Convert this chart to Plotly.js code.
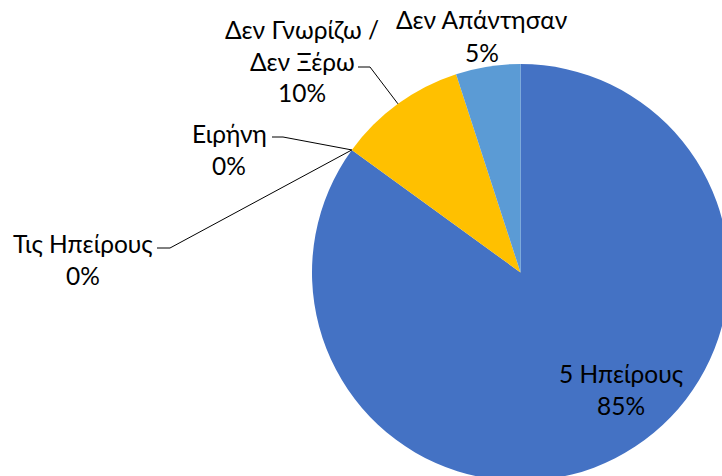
<!DOCTYPE html>
<html>
<head>
<meta charset="utf-8">
<script src="https://cdn.plot.ly/plotly-3.0.1.min.js"></script>
<style>
  html, body { margin: 0; padding: 0; overflow: hidden; background: #fff; }
  #myDiv { width: 800px; height: 560px; }
</style>
</head>
<body>
<div id="myDiv"></div>
<script>
// answers, in the order they go round the pie (clockwise from 12 o'clock)
var labels = ['5 Ηπείρους', 'Τις Ηπείρους', 'Ειρήνη', 'Δεν Γνωρίζω /<br>Δεν Ξέρω', 'Δεν Απάντησαν'];
var values = [85, 0, 0, 10, 5];
var colors = ['#4472C4', '#A5A5A5', '#ED7D31', '#FFC000', '#5B9BD5'];

// where each label sits (centre x, y of first line, in page px) and its leader line start
var labelPos = [
  {x: 621, y: 373, leader: null},
  {x: 83, y: 243, leader: [157, 248, 170]},
  {x: 229, y: 133, leader: [272, 137, 283]},
  {x: 302, y: 29, leader: [358, 67, 370]},
  {x: 482, y: 20, leader: null}
];

var W = 800, H = 560;
var cx = 520.5, cy = 272.5, r = 208.5;
var lineH = 32;

function px(x) { return x / W; }
function py(y) { return 1 - y / H; }

var total = values.reduce(function (a, b) { return a + b; }, 0);

var data = [{
  type: 'pie',
  labels: labels,
  values: values,
  sort: false,
  direction: 'clockwise',
  rotation: 0,
  textinfo: 'none',
  hoverinfo: 'label+percent',
  marker: {colors: colors, line: {width: 0}},
  domain: {x: [px(cx - r), px(cx + r)], y: [py(cy + r), py(cy - r)]}
}];

var annotations = [];
var shapes = [];
var cum = 0;
labels.forEach(function (lab, i) {
  var mid = (cum + values[i] / 2) / total * 2 * Math.PI;
  cum += values[i];
  var lines = lab.split('<br>').concat([Math.round(values[i] / total * 100) + '%']);
  var p = labelPos[i];
  lines.forEach(function (t, k) {
    annotations.push({
      xref: 'paper', yref: 'paper',
      x: px(p.x), y: py(p.y + k * lineH),
      xanchor: 'center', yanchor: 'middle',
      text: t, showarrow: false,
      font: {family: 'Lato, Noto Sans, sans-serif', size: 24.5, color: '#000'}
    });
  });
  if (p.leader) {
    var ex = cx + r * Math.sin(mid), ey = cy - r * Math.cos(mid);
    var ln = {color: '#000', width: 1};
    shapes.push({type: 'line', xref: 'paper', yref: 'paper',
      x0: px(p.leader[0]), y0: py(p.leader[1]), x1: px(p.leader[2]), y1: py(p.leader[1]), line: ln});
    shapes.push({type: 'line', xref: 'paper', yref: 'paper',
      x0: px(p.leader[2]), y0: py(p.leader[1]), x1: px(ex), y1: py(ey), line: ln});
  }
});

var layout = {
  width: W, height: H,
  margin: {l: 0, r: 0, t: 0, b: 0},
  showlegend: false,
  paper_bgcolor: '#fff',
  annotations: annotations,
  shapes: shapes
};

Plotly.newPlot('myDiv', data, layout, {staticPlot: true});
</script>
</body>
</html>
